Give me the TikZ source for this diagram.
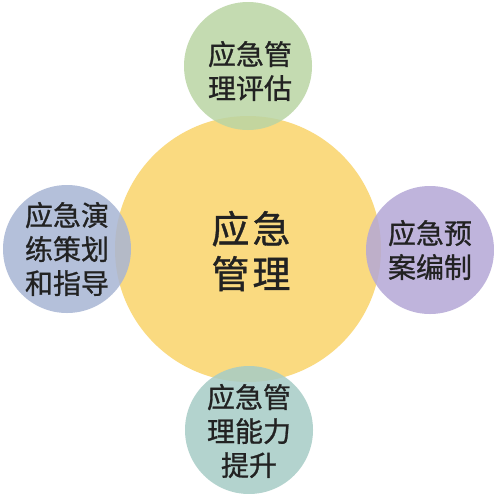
\documentclass[tikz,border=0pt]{standalone}
\usepackage{fontspec}
\newfontfamily\cjk[FakeBold=0.9]{Noto Sans CJK SC}
\definecolor{bigY}{RGB}{250,218,128}
\definecolor{cG}{RGB}{186,213,164}
\definecolor{cB}{RGB}{168,181,212}
\definecolor{cP}{RGB}{180,168,214}
\definecolor{cT}{RGB}{166,204,198}
\definecolor{txt}{RGB}{34,34,34}
\tikzset{
  bigc/.style={circle, fill=bigY, minimum size=266pt, inner sep=0pt},
  smallc/.style={circle, minimum size=128pt, inner sep=0pt, fill opacity=0.85},
  bigtxt/.style={text=txt, font=\cjk\fontsize{38}{45}\selectfont, align=center, inner sep=0pt},
  smalltxt/.style={text=txt, font=\cjk\fontsize{28}{34}\selectfont, align=center, inner sep=0pt},
}
\begin{document}
\begin{tikzpicture}[x=1pt,y=-1pt]
\useasboundingbox (0,0) rectangle (494,493);
\fill[white] (0,0) rectangle (494,493);
\node[bigc] (big) at (248,249) {};
\node[smallc, fill=cG] (top) at (248,66) {};
\node[smallc, fill=cB] (left) at (67,249) {};
\node[smallc, fill=cP] (right) at (430,250) {};
\node[smallc, fill=cT] (bottom) at (249,430) {};
\node[bigtxt] (bigt) at (251,251) {应\kern3pt 急\\管\kern3pt 理};
\node[smalltxt] (topt) at (250,71) {应急管\\理评估};
\node[smalltxt] (leftt) at (67,249) {应急演\\练策划\\和指导};
\node[smalltxt] (rightt) at (430,250) {应急预\\案编制};
\node[smalltxt] (bottomt) at (249,431) {应急管\\理能力\\提升};
\end{tikzpicture}
\end{document}
